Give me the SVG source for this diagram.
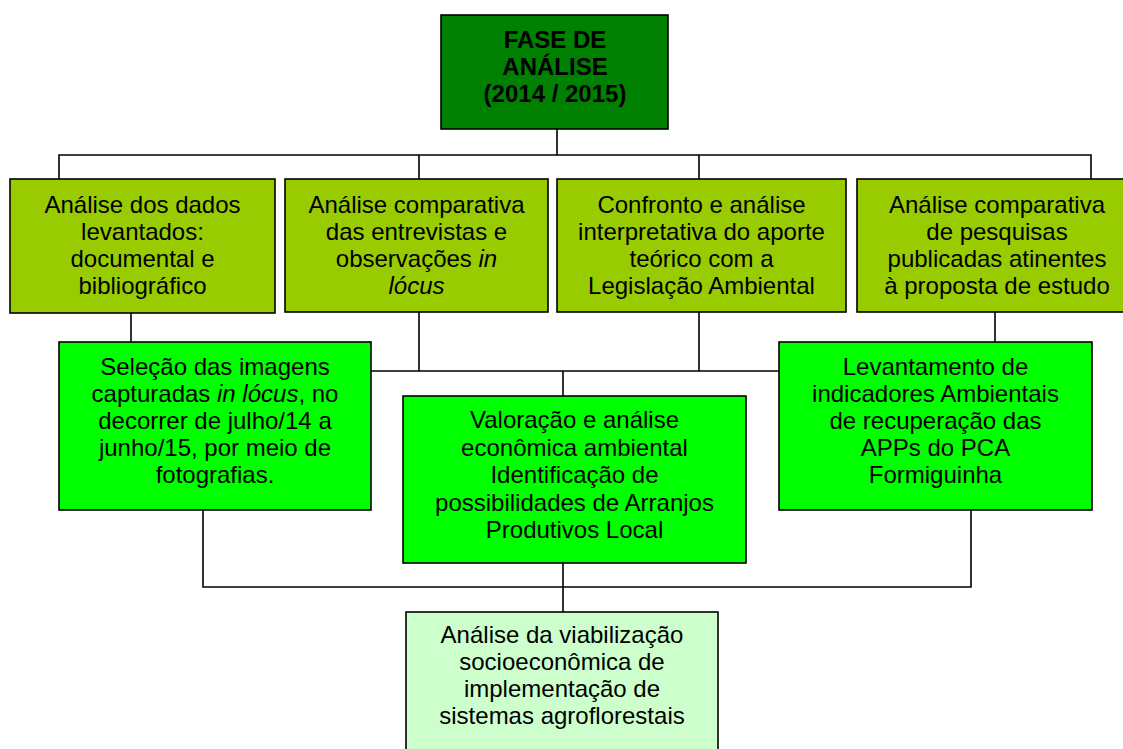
<svg xmlns="http://www.w3.org/2000/svg" width="1123" height="749" viewBox="0 0 1123 749">
<style>
.box{stroke:#000;stroke-width:1.6}
.t{font-family:"Liberation Sans",Arial,sans-serif;font-size:24px;fill:#000;text-anchor:middle}
.b{font-weight:bold}
.i{font-style:italic}
.c{fill:none;stroke:#000;stroke-width:1.6}
</style>
<rect width="1123" height="749" fill="#fff"/>
<g id="connectors">
<path class="c" d="M557 129V155M59 179V155H1091V179M419 155V179M699 155V179"/>
<path class="c" d="M131 313V342M995 312V342M419 312V371M699 312V371M371 371H779M563 371V396"/>
<path class="c" d="M203 510V587H971V510M563 563V612"/>
</g>
<g id="n0">
<rect class="box" x="441" y="15" width="227" height="114" fill="#008000"/>
<text class="t b" x="555" y="48">FASE DE</text>
<text class="t b" x="555" y="75">ANÁLISE</text>
<text class="t b" x="555" y="102">(2014 / 2015)</text>
</g>
<g id="n1">
<rect class="box" x="10" y="179" width="265" height="134" fill="#99cc00"/>
<text class="t" x="142.5" y="213">Análise dos dados</text>
<text class="t" x="142.5" y="240">levantados:</text>
<text class="t" x="142.5" y="267">documental e</text>
<text class="t" x="142.5" y="294">bibliográfico</text>
</g>
<g id="n2">
<rect class="box" x="285" y="179" width="263" height="133" fill="#99cc00"/>
<text class="t" x="416.5" y="213">Análise comparativa</text>
<text class="t" x="416.5" y="240">das entrevistas e</text>
<text class="t" x="416.5" y="267">observações <tspan class="i">in</tspan></text>
<text class="t i" x="416.5" y="294">lócus</text>
</g>
<g id="n3">
<rect class="box" x="557" y="179" width="289" height="133" fill="#99cc00"/>
<text class="t" x="701.5" y="213">Confronto e análise</text>
<text class="t" x="701.5" y="240">interpretativa do aporte</text>
<text class="t" x="701.5" y="267">teórico com a</text>
<text class="t" x="701.5" y="294">Legislação Ambiental</text>
</g>
<g id="n4">
<rect class="box" x="857" y="179" width="280" height="133" fill="#99cc00"/>
<text class="t" x="997" y="213">Análise comparativa</text>
<text class="t" x="997" y="240">de pesquisas</text>
<text class="t" x="997" y="267">publicadas atinentes</text>
<text class="t" x="997" y="294">à proposta de estudo</text>
</g>
<g id="n5">
<rect class="box" x="59" y="342" width="312" height="168" fill="#00ff00"/>
<text class="t" x="215" y="375">Seleção das imagens</text>
<text class="t" x="215" y="402">capturadas <tspan class="i">in lócus</tspan>, no</text>
<text class="t" x="215" y="429">decorrer de julho/14 a</text>
<text class="t" x="215" y="456">junho/15, por meio de</text>
<text class="t" x="215" y="483">fotografias.</text>
</g>
<g id="n6">
<rect class="box" x="403" y="396" width="343" height="167" fill="#00ff00"/>
<text class="t" x="574.5" y="428">Valoração e análise</text>
<text class="t" x="574.5" y="456">econômica ambiental</text>
<text class="t" x="574.5" y="483">Identificação de</text>
<text class="t" x="574.5" y="511">possibilidades de Arranjos</text>
<text class="t" x="574.5" y="538">Produtivos Local</text>
</g>
<g id="n7">
<rect class="box" x="779" y="342" width="313" height="168" fill="#00ff00"/>
<text class="t" x="935.5" y="375">Levantamento de</text>
<text class="t" x="935.5" y="402">indicadores Ambientais</text>
<text class="t" x="935.5" y="429">de recuperação das</text>
<text class="t" x="935.5" y="456">APPs do PCA</text>
<text class="t" x="935.5" y="483">Formiguinha</text>
</g>
<g id="n8">
<rect class="box" x="406" y="612" width="312" height="150" fill="#ccffcc"/>
<text class="t" x="562" y="643">Análise da viabilização</text>
<text class="t" x="562" y="670">socioeconômica de</text>
<text class="t" x="562" y="697">implementação de</text>
<text class="t" x="562" y="724">sistemas agroflorestais</text>
</g>
</svg>
